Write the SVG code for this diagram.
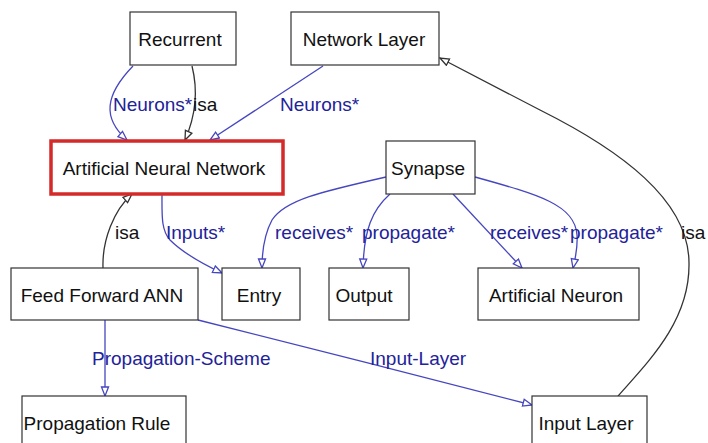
<svg xmlns="http://www.w3.org/2000/svg" width="708" height="443" viewBox="0 0 708 443">
<style>
.box{fill:#fff;stroke:#333;stroke-width:1.2}
.main{fill:#fff;stroke:#d42a2a;stroke-width:3.5}
.nt{font-family:"Liberation Sans",Arial,sans-serif;font-size:19px;fill:#111;text-anchor:middle}
.lt{font-family:"Liberation Sans",Arial,sans-serif;font-size:19px;fill:#22229a}
.eb{fill:none;stroke:#4646c0;stroke-width:1.3}
.ek{fill:none;stroke:#333;stroke-width:1.3}
</style>
<defs>
<marker id="ab" markerWidth="12" markerHeight="10" refX="10" refY="4.5" orient="auto" markerUnits="userSpaceOnUse">
<path d="M1,1 L10,4.5 L1,8 Z" fill="#fff" stroke="#4646c0" stroke-width="1.3"/>
</marker>
<marker id="ak" markerWidth="12" markerHeight="10" refX="10" refY="4.5" orient="auto" markerUnits="userSpaceOnUse">
<path d="M1,1 L10,4.5 L1,8 Z" fill="#fff" stroke="#333" stroke-width="1.3"/>
</marker>
</defs>
<rect width="708" height="443" fill="#fff"/>
<g id="connectors">
<path class="eb" d="M133,66 C105,95 102,118 127,140" marker-end="url(#ab)"/>
<path class="ek" d="M192,66 C198,90 196,115 185,140" marker-end="url(#ak)"/>
<path class="eb" d="M323,66 L210,140" marker-end="url(#ab)"/>
<path class="ek" d="M103,268 C102,240 114,210 132,194" marker-end="url(#ak)"/>
<path class="eb" d="M162,194 C162,215 161,230 170,240 C185,255 205,265 222,273" marker-end="url(#ab)"/>
<path class="eb" d="M386,177 C320,192 285,200 272,220 C264,235 262,250 262,268" marker-end="url(#ab)"/>
<path class="eb" d="M390,194 C372,210 364,230 363,268" marker-end="url(#ab)"/>
<path class="eb" d="M453,194 L522,268" marker-end="url(#ab)"/>
<path class="eb" d="M475,177 C540,195 575,205 577,235 C578,250 575,258 573,268" marker-end="url(#ab)"/>
<path class="ek" d="M618,396 C650,360 690,320 689,263 C689,200 620,150 540,110 L440,58" marker-end="url(#ak)"/>
<path class="eb" d="M105,320 L105,396" marker-end="url(#ab)"/>
<path class="eb" d="M198,320 C300,346 430,378 532,405" marker-end="url(#ab)"/>
<text class="lt" x="113" y="111">Neurons*</text>
<text class="lt" x="193" y="111" fill="#111" style="fill:#111">isa</text>
<text class="lt" x="280" y="111">Neurons*</text>
<text class="lt" x="115" y="239" style="fill:#111">isa</text>
<text class="lt" x="166" y="239">Inputs*</text>
<text class="lt" x="275" y="239">receives*</text>
<text class="lt" x="362" y="239">propagate*</text>
<text class="lt" x="490" y="239">receives*</text>
<text class="lt" x="570" y="239">propagate*</text>
<text class="lt" x="681" y="239" style="fill:#111">isa</text>
<text class="lt" x="92" y="365">Propagation-Scheme</text>
<text class="lt" x="370" y="365">Input-Layer</text>
</g>
<g id="recurrent"><rect class="box" x="130" y="12" width="106" height="53"/><text class="nt" x="180" y="46">Recurrent</text></g>
<g id="network-layer"><rect class="box" x="291" y="12" width="148" height="53"/><text class="nt" x="364" y="46">Network Layer</text></g>
<g id="ann"><rect class="main" x="51" y="141" width="232" height="53"/><text class="nt" x="164" y="175">Artificial Neural Network</text></g>
<g id="synapse"><rect class="box" x="386" y="141" width="89" height="53"/><text class="nt" x="428" y="175">Synapse</text></g>
<g id="feed-forward-ann"><rect class="box" x="11" y="268" width="187" height="52"/><text class="nt" x="102" y="302">Feed Forward ANN</text></g>
<g id="entry"><rect class="box" x="222" y="268" width="78" height="52"/><text class="nt" x="259" y="302">Entry</text></g>
<g id="output"><rect class="box" x="329" y="268" width="80" height="52"/><text class="nt" x="364" y="302">Output</text></g>
<g id="artificial-neuron"><rect class="box" x="478" y="268" width="161" height="52"/><text class="nt" x="556" y="302">Artificial Neuron</text></g>
<g id="propagation-rule"><rect class="box" x="22" y="396" width="164" height="53"/><text class="nt" x="97" y="430">Propagation Rule</text></g>
<g id="input-layer"><rect class="box" x="532" y="396" width="115" height="53"/><text class="nt" x="586" y="430">Input Layer</text></g>
</svg>
